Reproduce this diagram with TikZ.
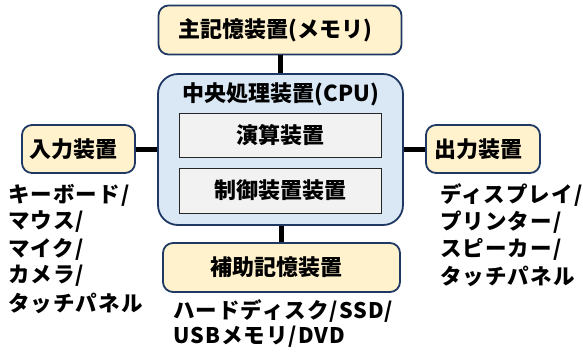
\documentclass[tikz,border=0pt]{standalone}
\usepackage{fontspec}
\setmainfont{Noto Sans CJK JP}
\newfontfamily\listfont[LetterSpace=5]{Noto Sans CJK JP}
\definecolor{navy}{HTML}{1F3864}
\definecolor{ybox}{HTML}{FFF2CC}
\definecolor{bbox}{HTML}{DAE8F6}
\definecolor{gbox}{HTML}{F2F2F2}
\newcommand{\ylab}[1]{#1\hspace*{10pt}}
\begin{document}
\begin{tikzpicture}[x=1pt,y=-1pt,
  ydev/.style={draw=navy,line width=1.8pt,fill=ybox,rounded corners=10pt,inner sep=0pt,
     font=\fontsize{22}{26}\selectfont\bfseries},
  unit/.style={draw=black!85,line width=0.9pt,fill=gbox,inner sep=0pt,minimum width=202pt,
     font=\fontsize{22}{26}\selectfont\bfseries},
  cpubox/.style={draw=navy,line width=1.8pt,fill=bbox,rounded corners=20pt,inner sep=0pt},
  lst/.style={anchor=west,inner sep=0pt,font=\listfont\fontsize{21.5}{26}\selectfont\bfseries},
  conn/.style={line width=5pt,black}]
\useasboundingbox (0,0) rectangle (583,354);
\node[cpubox,minimum width=245pt,minimum height=151pt] (cpu) at (280.5,149.5) {};
\node[inner sep=0pt,font=\fontsize{22}{26}\selectfont\bfseries] (cputitle) at (281,94) {中央処理装置(CPU)};
\node[unit,minimum height=44pt] (alu) at (280,135) {演算装置};
\node[unit,minimum height=45pt] (ctl) at (280,190.5) {制御装置装置};
\node[ydev,minimum width=243pt,minimum height=49pt] (mem) at (280,30) {\ylab{主記憶装置(メモリ)}};
\node[ydev,minimum width=113pt,minimum height=48pt] (in) at (78.5,149) {\ylab{入力装置}};
\node[ydev,minimum width=114pt,minimum height=48pt] (out) at (483,149) {\ylab{出力装置}};
\node[ydev,minimum width=237pt,minimum height=49pt] (aux) at (281.5,267.5) {\ylab{補助記憶装置}};
\draw[conn] (mem.south) -- (mem.south |- cpu.north);
\draw[conn] (in.east) -- (in.east -| cpu.west);
\draw[conn] (out.west -| cpu.east) -- (out.west);
\draw[conn] (aux.north |- cpu.south) -- (aux.north);
\node[lst] (i1) at (8,195) {キーボード/};
\node[lst] (i2) at (8,222) {マウス/};
\node[lst] (i3) at (8,249) {マイク/};
\node[lst] (i4) at (8,276) {カメラ/};
\node[lst] (i5) at (8,303) {タッチパネル};
\node[lst] (o1) at (440,195) {ディスプレイ/};
\node[lst] (o2) at (440,222) {プリンター/};
\node[lst] (o3) at (440,249) {スピーカー/};
\node[lst] (o4) at (440,276) {タッチパネル};
\node[lst] (a1) at (173,311) {ハードディスク/SSD/};
\node[lst] (a2) at (173,337) {USBメモリ/DVD};
\end{tikzpicture}
\end{document}
